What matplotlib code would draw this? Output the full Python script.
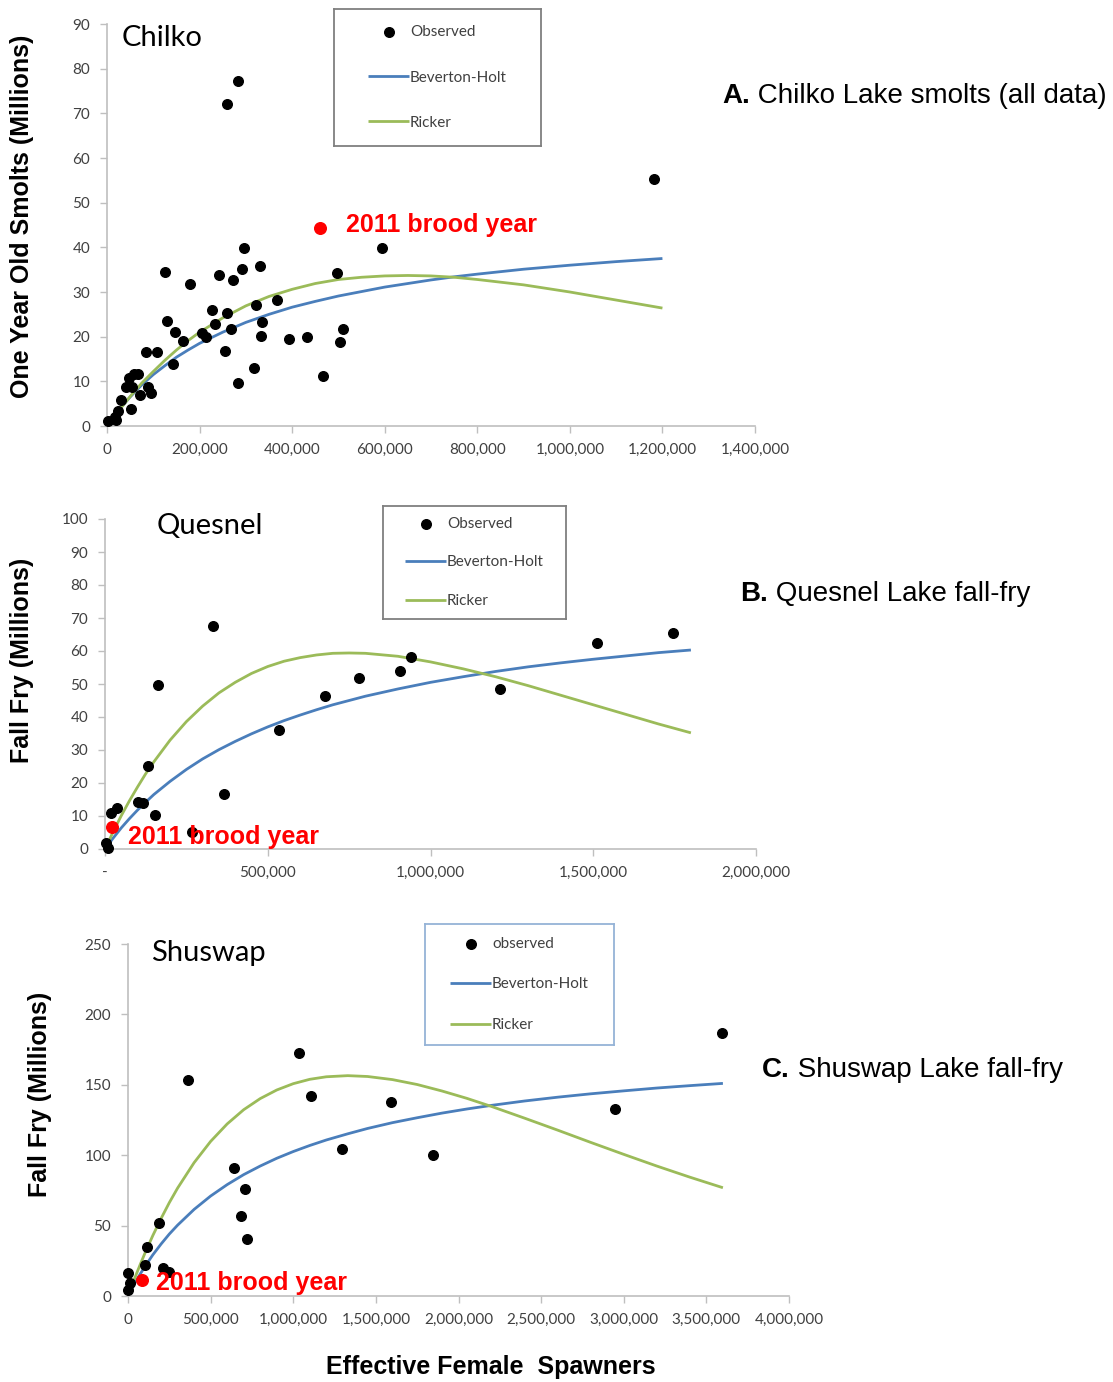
"""Stock-recruitment plots for three Fraser sockeye lakes: observed vs Beverton-Holt / Ricker fits."""

import matplotlib
matplotlib.use("Agg")
import matplotlib.pyplot as plt
from matplotlib.text import Annotation
from matplotlib.ticker import FuncFormatter, MultipleLocator

# --- Chilko (smolts, millions) ---
chilko_spawners = [595e3, 284e3, 260e3, 297e3, 126e3, 331e3, 243e3, 291e3, 273e3, 180e3,
                   497e3, 367e3, 321e3, 227e3, 260e3, 130e3, 334e3, 233e3, 267e3, 509e3,
                   146e3, 205e3, 213e3, 332e3, 394e3, 432e3, 164e3, 503e3, 84e3, 108e3,
                   254e3, 142e3, 318e3, 466e3, 282e3, 59e3, 68e3, 48e3, 40e3, 54e3,
                   89e3, 71e3, 96e3, 31e3, 51e3, 23e3, 17e3, 2e3, 19e3, 1182e3]
chilko_smolts = [39.9, 77.3, 72.0, 39.9, 34.4, 35.8, 33.8, 35.2, 32.6, 31.9,
                 34.3, 28.3, 27.2, 26.0, 25.4, 23.6, 23.2, 22.9, 21.7, 21.8,
                 21.1, 20.9, 19.9, 20.2, 19.4, 19.9, 19.1, 18.7, 16.6, 16.6,
                 16.9, 13.9, 12.9, 11.1, 9.7, 11.7, 11.7, 10.8, 8.8, 8.8,
                 8.7, 6.9, 7.5, 5.8, 3.9, 3.4, 2.1, 1.2, 1.3, 55.3]
chilko_2011 = (461e3, 44.4)

chilko_fit_s = [0, 25e3, 50e3, 75e3, 100e3, 125e3, 150e3, 175e3, 200e3, 250e3, 300e3,
                350e3, 400e3, 450e3, 500e3, 550e3, 600e3, 650e3, 700e3, 750e3, 800e3,
                900e3, 1000e3, 1100e3, 1200e3]
chilko_bh = [0, 3.5, 6.5, 9.2, 11.5, 13.5, 15.4, 17.0, 18.5, 21.0, 23.2,
             25.0, 26.6, 27.9, 29.1, 30.1, 31.1, 31.9, 32.7, 33.4, 34.0,
             35.1, 36.0, 36.8, 37.5]
chilko_ricker = [0, 3.4, 6.6, 9.6, 12.2, 14.7, 17.0, 19.1, 21.0, 24.2, 26.9,
                 29.0, 30.6, 31.9, 32.8, 33.3, 33.6, 33.7, 33.6, 33.3, 32.8,
                 31.6, 30.0, 28.2, 26.4]

# --- Quesnel (fall fry, millions) ---
quesnel_spawners = [333e3, 164e3, 132e3, 535e3, 367e3, 677e3, 779e3, 906e3, 941e3, 1214e3,
                    100e3, 118e3, 154e3, 267e3, 18e3, 37e3, 2e3, 8e3, 1513e3, 1744e3]
quesnel_fry = [67.5, 49.7, 25.3, 36.0, 16.6, 46.5, 51.7, 53.9, 58.2, 48.4,
               14.3, 13.8, 10.3, 5.2, 10.9, 12.4, 1.8, 0.3, 62.5, 65.4]
quesnel_2011 = (22e3, 6.8)

quesnel_fit_s = [0, 25e3, 50e3, 75e3, 100e3, 125e3, 150e3, 200e3, 250e3, 300e3, 350e3,
                 400e3, 450e3, 500e3, 550e3, 600e3, 650e3, 700e3, 750e3, 800e3, 900e3,
                 1000e3, 1100e3, 1200e3, 1300e3, 1400e3, 1500e3, 1600e3, 1700e3, 1800e3]
quesnel_bh = [0, 3.3, 6.4, 9.2, 11.8, 14.2, 16.5, 20.5, 24.1, 27.3, 30.1,
              32.6, 34.9, 37.0, 38.9, 40.6, 42.2, 43.7, 45.0, 46.3, 48.5,
              50.5, 52.2, 53.8, 55.2, 56.4, 57.5, 58.5, 59.5, 60.3]
quesnel_ricker = [0, 5.2, 10.1, 14.6, 18.8, 22.8, 26.4, 33.0, 38.6, 43.3, 47.3,
                  50.5, 53.2, 55.3, 56.9, 58.0, 58.8, 59.3, 59.4, 59.3, 58.4,
                  56.7, 54.6, 52.2, 49.5, 46.6, 43.7, 40.8, 37.9, 35.2]

# --- Shuswap (fall fry, millions) ---
shuswap_spawners = [362e3, 1035e3, 1109e3, 1594e3, 1294e3, 1846e3, 641e3, 705e3, 686e3, 718e3,
                    185e3, 113e3, 103e3, 213e3, 250e3, 2e3, 12e3, 1e3, 2947e3, 3596e3]
shuswap_fry = [153.7, 172.7, 141.9, 137.7, 104.5, 99.8, 90.8, 76.2, 56.8, 40.2,
               51.6, 35.0, 22.0, 19.7, 17.0, 16.0, 9.0, 4.0, 132.6, 186.6]
shuswap_2011 = (82e3, 11.4)

shuswap_fit_s = [0, 25e3, 50e3, 75e3, 100e3, 150e3, 200e3, 250e3, 300e3, 400e3, 500e3,
                 600e3, 700e3, 800e3, 900e3, 1000e3, 1100e3, 1200e3, 1330e3, 1450e3,
                 1600e3, 1750e3, 1900e3, 2050e3, 2200e3, 2400e3, 2600e3, 2800e3,
                 3000e3, 3200e3, 3400e3, 3600e3]
shuswap_bh = [0, 5.6, 10.9, 15.8, 20.5, 29.2, 36.9, 44.0, 50.3, 61.5, 71.0,
              79.1, 86.2, 92.3, 97.8, 102.6, 106.9, 110.8, 115.2, 119.0,
              123.1, 126.6, 129.9, 132.8, 135.4, 138.5, 141.2, 143.6,
              145.7, 147.7, 149.4, 151.0]
shuswap_ricker = [0, 7.9, 15.4, 22.7, 29.7, 42.9, 55.0, 66.3, 76.6, 94.7, 109.8,
                  122.2, 132.3, 140.2, 146.3, 150.8, 153.9, 155.7, 156.5, 155.9,
                  153.7, 150.2, 145.6, 140.4, 134.6, 126.3, 117.8, 109.1,
                  100.6, 92.3, 84.4, 76.9]

W, H = 1113, 1382
BLUE = "#4A7EBB"
GREEN = "#9BBB59"
AXIS_GREY = "#BFBFBF"
TEXT_GREY = "#404040"
TICK_FONT = "Lato"
BOLD_FONT = "Liberation Sans"


def fig_box(left, top, right, bottom):
    """Pixel box (from top-left) -> figure fraction rect."""
    return [left / W, 1 - bottom / H, (right - left) / W, (bottom - top) / H]


def comma_fmt(dash_zero=False):
    def f(v, pos):
        if v == 0 and dash_zero:
            return "-"
        return f"{int(v):,}"
    return FuncFormatter(f)


def style_axes(ax, xmax, xstep, ymax, ystep, dash_zero=False):
    ax.set_xlim(0, xmax)
    ax.set_ylim(0, ymax)
    ax.xaxis.set_major_locator(MultipleLocator(xstep))
    ax.yaxis.set_major_locator(MultipleLocator(ystep))
    ax.xaxis.set_major_formatter(comma_fmt(dash_zero))
    ax.yaxis.set_major_formatter(FuncFormatter(lambda v, p: f"{int(v)}"))
    for s in ("top", "right"):
        ax.spines[s].set_visible(False)
    for s in ("left", "bottom"):
        ax.spines[s].set_color(AXIS_GREY)
        ax.spines[s].set_linewidth(1.2)
    ax.tick_params(direction="out", length=5, width=1, color=AXIS_GREY,
                   labelsize=11, labelcolor=TEXT_GREY, pad=7)
    for lab in ax.get_xticklabels() + ax.get_yticklabels():
        lab.set_fontfamily(TICK_FONT)
    ax.set_facecolor("none")


def draw_panel(ax, spawners, recruits, red_pt, fit_s, bh, ricker, obs_label):
    ax.plot(fit_s, bh, color=BLUE, lw=2.0, label="Beverton-Holt", zorder=2,
            solid_capstyle="butt")
    ax.plot(fit_s, ricker, color=GREEN, lw=2.0, label="Ricker", zorder=2,
            solid_capstyle="butt")
    ax.scatter(spawners, recruits, s=48, color="black", label=obs_label, zorder=3,
               clip_on=False)
    ax.scatter([red_pt[0]], [red_pt[1]], s=70, color="#FF0000", zorder=4, clip_on=False)


def add_legend(ax, box, obs_label, edge, spacing):
    # framed box of fixed size, legend entries centred inside it
    lax = fig.add_axes(fig_box(*box))
    lax.set_xticks([])
    lax.set_yticks([])
    for s in lax.spines.values():
        s.set_color(edge)
        s.set_linewidth(1.3)
    handles, labels = ax.get_legend_handles_labels()
    order = [labels.index(obs_label), labels.index("Beverton-Holt"), labels.index("Ricker")]
    lax.legend([handles[i] for i in order], [labels[i] for i in order],
               loc="center", frameon=False, labelspacing=spacing, handlelength=2.7,
               handletextpad=0.05, scatterpoints=1,
               prop={"family": TICK_FONT, "size": 11}, labelcolor=TEXT_GREY)


def brood_label(ax, pt, dx, dy):
    ax.annotate("2011 brood year", xy=pt, xytext=(dx * 0.72, dy * 0.72),
                textcoords="offset points", ha="left", va="center",
                color="#FF0000", fontsize=18, fontweight="bold", family=BOLD_FONT,
                zorder=5)


fig = plt.figure(figsize=(W / 100, H / 100), dpi=100)

# Panel A: Chilko
axA = fig.add_axes(fig_box(107, 24, 755, 426))
draw_panel(axA, chilko_spawners, chilko_smolts, chilko_2011,
           chilko_fit_s, chilko_bh, chilko_ricker, "Observed")
style_axes(axA, 1.4e6, 200e3, 90, 10)
brood_label(axA, chilko_2011, 26, 3)

# Panel B: Quesnel
axB = fig.add_axes(fig_box(105, 519, 756, 849))
draw_panel(axB, quesnel_spawners, quesnel_fry, quesnel_2011,
           quesnel_fit_s, quesnel_bh, quesnel_ricker, "Observed")
style_axes(axB, 2.0e6, 500e3, 100, 10, dash_zero=True)
brood_label(axB, quesnel_2011, 16, -10)

# Panel C: Shuswap
axC = fig.add_axes(fig_box(128, 944, 789, 1296))
draw_panel(axC, shuswap_spawners, shuswap_fry, shuswap_2011,
           shuswap_fit_s, shuswap_bh, shuswap_ricker, "observed")
style_axes(axC, 4.0e6, 500e3, 250, 50)
brood_label(axC, shuswap_2011, 14, -3)

add_legend(axA, (334, 9, 541, 146), "Observed", "#7F7F7F", 2.05)
add_legend(axB, (383, 506, 566, 619), "Observed", "#7F7F7F", 1.6)
add_legend(axC, (425, 924, 614, 1045), "observed", "#95B3D7", 1.75)

# lake names inside the plots
for x_px, y_px, name in [(122, 38, "Chilko"), (157, 526, "Quesnel"), (151, 953, "Shuswap")]:
    fig.text(x_px / W, 1 - y_px / H, name, fontsize=21, family=TICK_FONT,
             va="center", ha="left")

# panel captions: bold letter followed by regular text
for x_px, y_px, letter, rest in [(722, 96, "A.", " Chilko Lake smolts (all data)"),
                                 (740, 594, "B.", " Quesnel Lake fall-fry"),
                                 (762, 1070, "C.", " Shuswap Lake fall-fry")]:
    t = fig.text(x_px / W, 1 - y_px / H, letter, fontsize=20, fontweight="bold",
                 family=BOLD_FONT, va="center", ha="left")
    fig.add_artist(Annotation(rest, xy=(1, 0.5), xycoords=t, va="center",
                              ha="left", fontsize=20, family=BOLD_FONT))

# axis titles
fig.text(22 / W, 1 - 216 / H, "One Year Old Smolts (Millions)", rotation=90,
         fontsize=18, fontweight="bold", family=BOLD_FONT, ha="center", va="center")
fig.text(22 / W, 1 - 660 / H, "Fall Fry (Millions)", rotation=90,
         fontsize=18, fontweight="bold", family=BOLD_FONT, ha="center", va="center")
fig.text(40 / W, 1 - 1094 / H, "Fall Fry (Millions)", rotation=90,
         fontsize=18, fontweight="bold", family=BOLD_FONT, ha="center", va="center")
fig.text(491 / W, 1 - 1367 / H, "Effective Female  Spawners",
         fontsize=18, fontweight="bold", family=BOLD_FONT, ha="center", va="center")

fig.savefig("out.png", dpi=100)
